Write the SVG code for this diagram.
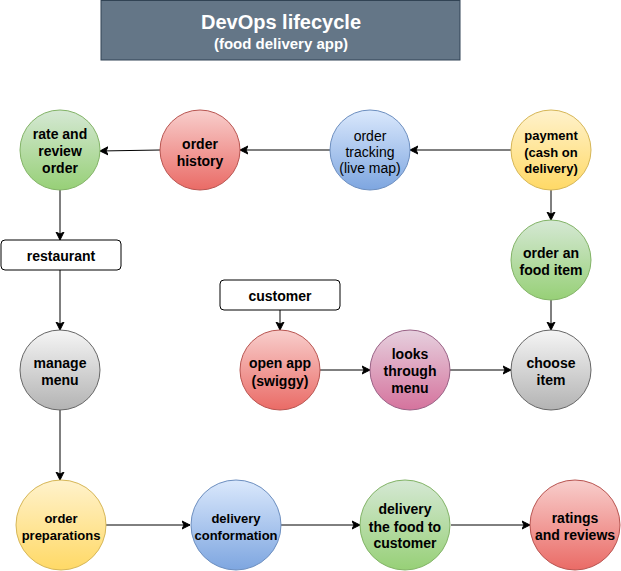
<svg xmlns="http://www.w3.org/2000/svg" width="621" height="571" viewBox="0 0 621 571">
<style>
text{font-family:"Liberation Sans",Arial,sans-serif;font-weight:bold;fill:#000;text-anchor:middle}
.t13{font-size:13px}
.t14{font-size:14px}
.reg{font-weight:normal}
.title{font-size:20px;fill:#fff}
.sub{font-size:15px;fill:#fff}
.edge{fill:none;stroke:#000;stroke-width:1;marker-end:url(#arr)}
.box{fill:#fff;stroke:#000;stroke-width:1}
</style>
<defs>
<marker id="arr" markerWidth="10" markerHeight="10" refX="8" refY="5" orient="auto" markerUnits="userSpaceOnUse">
<path d="M0,1 L8,5 L0,9 L2,5 Z" fill="#000" stroke="#000" stroke-width="1" stroke-linejoin="miter"/>
</marker>
<linearGradient id="gGreen" x1="0" y1="0" x2="0" y2="1"><stop offset="0" stop-color="#d5e8d4"/><stop offset="1" stop-color="#97d077"/></linearGradient>
<linearGradient id="gRed" x1="0" y1="0" x2="0" y2="1"><stop offset="0" stop-color="#f8cecc"/><stop offset="1" stop-color="#ea6b66"/></linearGradient>
<linearGradient id="gBlue" x1="0" y1="0" x2="0" y2="1"><stop offset="0" stop-color="#dae8fc"/><stop offset="1" stop-color="#7ea6e0"/></linearGradient>
<linearGradient id="gYellow" x1="0" y1="0" x2="0" y2="1"><stop offset="0" stop-color="#fff2cc"/><stop offset="1" stop-color="#ffd966"/></linearGradient>
<linearGradient id="gGray" x1="0" y1="0" x2="0" y2="1"><stop offset="0" stop-color="#f5f5f5"/><stop offset="1" stop-color="#b3b3b3"/></linearGradient>
<linearGradient id="gPurple" x1="0" y1="0" x2="0" y2="1"><stop offset="0" stop-color="#e6d0de"/><stop offset="1" stop-color="#d5739d"/></linearGradient>
</defs>
<rect width="621" height="571" fill="#fff"/>

<g id="connectors">
<path class="edge" d="M511,150 L410,150"/>
<path class="edge" d="M330,150 L240,150"/>
<path class="edge" d="M160,150 L130,150.5 L100,151"/>
<path class="edge" d="M60,190 L60,240"/>
<path class="edge" d="M60,270 L60,330"/>
<path class="edge" d="M60,410 L60,480"/>
<path class="edge" d="M551,190 L551,220"/>
<path class="edge" d="M551,300 L551,330"/>
<path class="edge" d="M280,310 L280,330"/>
<path class="edge" d="M320,370 L370,370"/>
<path class="edge" d="M450,370 L511,370"/>
<path class="edge" d="M106,525 L190,525"/>
<path class="edge" d="M281,525 L360,525"/>
<path class="edge" d="M451,525 L530,525"/>
</g>

<g id="title">
<rect x="101" y="0.5" width="359" height="59.5" fill="#647687" stroke="#314354" stroke-width="1"/>
<text class="title" x="281" y="29">DevOps lifecycle</text>
<text class="sub" x="281" y="49">(food delivery app)</text>
</g>

<g id="rate">
<circle cx="60" cy="150" r="40" fill="url(#gGreen)" stroke="#82b366"/>
<text class="t14" x="60" y="139">rate and</text>
<text class="t14" x="60" y="156">review</text>
<text class="t14" x="60" y="173">order</text>
</g>

<g id="history">
<circle cx="200" cy="150" r="40" fill="url(#gRed)" stroke="#b85450"/>
<text class="t14" x="200" y="149">order</text>
<text class="t14" x="200" y="166">history</text>
</g>

<g id="tracking">
<circle cx="370" cy="150" r="40" fill="url(#gBlue)" stroke="#6c8ebf"/>
<text class="t14 reg" x="370" y="141">order</text>
<text class="t14 reg" x="370" y="157">tracking</text>
<text class="t14 reg" x="370" y="173">(live map)</text>
</g>

<g id="payment">
<circle cx="551" cy="150" r="40" fill="url(#gYellow)" stroke="#d6b656"/>
<text class="t13" x="551" y="140">payment</text>
<text class="t13" x="551" y="156.5">(cash on</text>
<text class="t13" x="551" y="173">delivery)</text>
</g>

<g id="restaurant">
<rect class="box" x="1" y="240" width="120" height="30" rx="4" ry="4"/>
<text class="t14" x="61" y="261">restaurant</text>
</g>

<g id="order-food">
<circle cx="551" cy="260" r="40" fill="url(#gGreen)" stroke="#82b366"/>
<text class="t14" x="551" y="258">order an</text>
<text class="t14" x="551" y="275">food item</text>
</g>

<g id="customer">
<rect class="box" x="220" y="280" width="120" height="30" rx="4" ry="4"/>
<text class="t14" x="280" y="301">customer</text>
</g>

<g id="manage">
<circle cx="60" cy="370" r="40" fill="url(#gGray)" stroke="#666666"/>
<text class="t14" x="60" y="368">manage</text>
<text class="t14" x="60" y="385">menu</text>
</g>

<g id="open-app">
<circle cx="280" cy="370" r="40" fill="url(#gRed)" stroke="#b85450"/>
<text class="t14" x="280" y="368">open app</text>
<text class="t14" x="280" y="385.5">(swiggy)</text>
</g>

<g id="looks">
<circle cx="410" cy="370" r="40" fill="url(#gPurple)" stroke="#996185"/>
<text class="t14" x="410" y="359">looks</text>
<text class="t14" x="410" y="376">through</text>
<text class="t14" x="410" y="393">menu</text>
</g>

<g id="choose">
<circle cx="551" cy="370" r="40" fill="url(#gGray)" stroke="#666666"/>
<text class="t14" x="551" y="368">choose</text>
<text class="t14" x="551" y="385">item</text>
</g>

<g id="prep">
<circle cx="61" cy="525" r="45" fill="url(#gYellow)" stroke="#d6b656"/>
<text class="t13" x="61" y="523">order</text>
<text class="t13" x="61" y="540">preparations</text>
</g>

<g id="confirm">
<circle cx="236" cy="525" r="45" fill="url(#gBlue)" stroke="#6c8ebf"/>
<text class="t13" x="236" y="523">delivery</text>
<text class="t13" x="236" y="540">conformation</text>
</g>

<g id="deliver">
<circle cx="405" cy="525" r="45" fill="url(#gGreen)" stroke="#82b366"/>
<text class="t14" x="405" y="514">delivery</text>
<text class="t14" x="405" y="531.5">the food to</text>
<text class="t14" x="405" y="548">customer</text>
</g>

<g id="ratings">
<circle cx="575" cy="525" r="45" fill="url(#gRed)" stroke="#b85450"/>
<text class="t14" x="575" y="523">ratings</text>
<text class="t14" x="575" y="540">and reviews</text>
</g>
</svg>
